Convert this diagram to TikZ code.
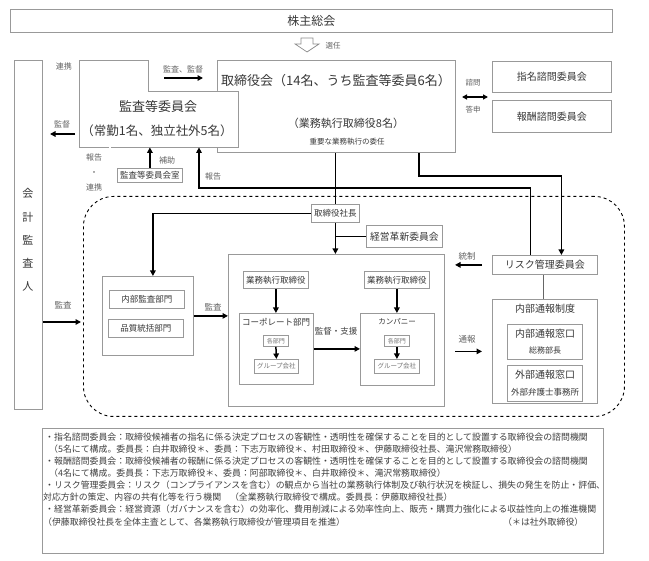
\documentclass[tikz,border=0pt]{standalone}
\usepackage{fontspec}
\setmainfont{Noto Sans CJK JP}
\usetikzlibrary{arrows.meta}
\newcommand\myfs[1]{\fontsize{#1pt}{#1pt}\selectfont}
\begin{document}
\begin{tikzpicture}[x=1pt,y=-1pt,
  bx/.style={draw=black!40, line width=0.8pt, fill=white, inner sep=0pt, anchor=north west, text=black!78},
  txt/.style={inner sep=0pt, text=black!78},
  sub/.style={inner sep=0pt, text=black!55},
  lbl/.style={inner sep=0pt, text=black!62, font=\myfs{8}},
  arr/.style={line width=1.5pt, -{Triangle[length=5.5pt,width=5.5pt]}},
  darr/.style={line width=1.5pt, {Triangle[length=5pt,width=5pt]}-{Triangle[length=5pt,width=5pt]}},
  ln/.style={line width=1.5pt},
  dbl/.style={draw=black!60, double=white, double distance=1.5pt, line width=0.7pt},
  note/.style={inner sep=0pt, anchor=west, text=black!75, font=\myfs{8.9}}
]
\useasboundingbox (0,0) rectangle (649,561);

% dashed region
\node[draw=black, dashed, line width=0.9pt, rounded corners=30pt, minimum width=541pt, minimum height=220pt, anchor=north west, inner sep=0pt] (zone) at (83,196) {};

% top
\node[bx, minimum width=602pt, minimum height=23pt, font=\myfs{12}] (sh) at (10,9) {株主総会};
\draw[draw=black!45, fill=white, line width=0.7pt] (301,38) -- (313,38) -- (313,44) -- (319,44) -- (307,52) -- (295,44) -- (301,44) -- cycle;
\node[lbl, font=\myfs{7.5}] (sennin) at (333,46) {選任};

% accounting auditor
\node[bx, minimum width=28pt, minimum height=349pt] (aud) at (14,60) {};
\node[txt, align=center, font=\fontsize{11pt}{23.2pt}\selectfont] (audt) at (28,240) {会\\計\\監\\査\\人};

% board
\node[bx, minimum width=238pt, minimum height=92pt] (brd) at (217,60) {};
\node[txt, font=\myfs{13}] (brd1) at (336,81) {取締役会（14名、うち監査等委員6名）};
\node[txt, font=\myfs{11}] (brd2) at (346,123) {（業務執行取締役8名）};
\node[txt, font=\myfs{7.5}] (brd3) at (347,142) {重要な業務執行の委任};

% audit & supervisory committee
\draw[draw=black!40, line width=0.8pt, fill=white] (79,60) -- (148,60) -- (148,91) -- (238,91) -- (238,147) -- (79,147) -- cycle;
\node[minimum width=159pt, minimum height=87pt, anchor=north west, inner sep=0pt] (ac) at (79,60) {};
\node[txt, font=\myfs{13}] (ac1) at (158,107) {監査等委員会};
\node[txt, font=\myfs{12.5}] (ac2) at (157,131) {（常勤1名、独立社外5名）};

% advisory committees
\node[bx, minimum width=119pt, minimum height=31pt, font=\myfs{10}] (nom) at (492,61) {指名諮問委員会};
\node[bx, minimum width=119pt, minimum height=32pt, font=\myfs{10}] (rem) at (492,100) {報酬諮問委員会};

\node[bx, minimum width=65pt, minimum height=14pt, font=\myfs{8.5}] (room) at (117,168) {監査等委員会室};

% inside zone
\node[bx, minimum width=48pt, minimum height=18pt, font=\myfs{8.5}] (ceo) at (311,204) {取締役社長};
\node[bx, minimum width=76pt, minimum height=22pt, font=\myfs{9.8}] (kak) at (366,225) {経営革新委員会};

\node[bx, minimum width=91pt, minimum height=79pt] (ia) at (102,276) {};
\node[bx, minimum width=75pt, minimum height=18pt, font=\myfs{8.5}] (iad) at (109,290) {内部監査部門};
\node[bx, minimum width=75pt, minimum height=18pt, font=\myfs{8.5}] (qa) at (108,319) {品質統括部門};

\node[bx, minimum width=216pt, minimum height=152pt] (exe) at (228,254) {};
\node[bx, minimum width=65pt, minimum height=17pt, font=\myfs{8.5}] (ed1) at (243,271) {業務執行取締役};
\node[bx, minimum width=65pt, minimum height=17pt, font=\myfs{8.5}] (ed2) at (364,271) {業務執行取締役};
\node[bx, minimum width=74pt, minimum height=71pt] (corp) at (239,313) {};
\node[txt, font=\myfs{8.5}] (corpt) at (276,322) {コーポレート部門};
\node[bx, minimum width=74pt, minimum height=72pt] (comp) at (360,313) {};
\node[txt, font=\myfs{7.5}] (compt) at (397,322) {カンパニー};
\node[bx, minimum width=25pt, minimum height=11pt, font=\myfs{6}, text=black!55] (dep1) at (263,335) {各部門};
\node[bx, minimum width=44pt, minimum height=14pt, font=\myfs{6.5}, text=black!55] (grp1) at (254,359) {グループ会社};
\node[bx, minimum width=25pt, minimum height=11pt, font=\myfs{6}, text=black!55] (dep2) at (384,335) {各部門};
\node[bx, minimum width=45pt, minimum height=14pt, font=\myfs{6.5}, text=black!55] (grp2) at (374,359) {グループ会社};

\node[bx, minimum width=105pt, minimum height=19pt, font=\myfs{10}] (risk) at (492,255) {リスク管理委員会};
\node[bx, minimum width=105pt, minimum height=104pt] (wb) at (492,299) {};
\node[txt, font=\myfs{10}] (wbt) at (545,309) {内部通報制度};
\node[bx, minimum width=75pt, minimum height=35pt] (win) at (507,324) {};
\node[txt, font=\myfs{10}] (win1) at (545,334) {内部通報窓口};
\node[txt, font=\myfs{8}] (win2) at (545,350) {総務部長};
\node[bx, minimum width=75pt, minimum height=36pt] (wout) at (507,365) {};
\node[txt, font=\myfs{10}] (wout1) at (545,375) {外部通報窓口};
\node[txt, font=\myfs{8.5}] (wout2) at (545,392) {外部弁護士事務所};

% free-end coordinates
\coordinate (k1) at (164,78);
\coordinate (k2) at (203,78);
\coordinate (s1) at (75,134);
\coordinate (s2) at (50,134);
\coordinate (r1) at (50,80);
\coordinate (r2) at (75,80);
\coordinate (q1) at (462,97);
\coordinate (q2) at (488,97);
\coordinate (m1) at (81,322);
\coordinate (rp) at (199,188);
\coordinate (bp) at (419,176);

% connectors
\draw[dbl] (r1) -- (r2);
\draw[arr] (k1) -- (k2);
\draw[arr] (s1) -- (s2);
\draw[darr] (q1) -- (q2);
\draw[arr] (m1 -| aud.east) -- (m1);
\draw[dbl] ([xshift=8pt]ia.north west) -- ([xshift=8pt]ia.north west |- ac.south);
\draw[arr] (room.north) -- (room.north |- ac.south);
\draw[arr] ([xshift=-14.5pt]risk.north) |- (rp) -- (rp |- ac.south);
\draw[arr] (bp |- brd.south) -- (bp) -| ([xshift=16.5pt]risk.north);
\draw[ln] (ceo.north) -- (ceo.north |- brd.south);
\draw[arr] (ceo.south) -- (ceo.south |- exe.north);
\draw[ln] (kak.west) -- (kak.west -| ceo.south);
\draw[arr] (ceo.west) -| ([xshift=5pt]ia.north);
\draw[arr] (ia.east) -- (ia.east -| exe.west);
\draw[arr] (ed1.south) -- (ed1.south |- corp.north);
\draw[arr] (ed2.south) -- (ed2.south |- comp.north);
\draw[arr] (dep1.south) -- (grp1.north);
\draw[arr] (dep2.south) -- (grp2.north);
\draw[arr] (corp.east) -- (corp.east -| comp.west);
\draw[arr] ([xshift=-10pt]risk.west) -- ([xshift=-37pt]risk.west);
\draw[dbl] (risk.south) -- (risk.south |- wb.north);
\draw[arr] ([xshift=-37pt]wb.west) -- ([xshift=-10pt]wb.west);

% labels
\node[lbl] (l1) at (64,66) {連携};
\node[lbl] (l2) at (183,69) {監査、監督};
\node[lbl] (l3) at (62,124) {監督};
\node[lbl, font=\myfs{7.5}] (l4) at (473,83) {諮問};
\node[lbl, font=\myfs{7.5}] (l5) at (473,110) {答申};
\node[lbl, align=center, font=\fontsize{8pt}{15pt}\selectfont] (l6) at (94,172) {報告\\・\\連携};
\node[lbl] (l7) at (167,160) {補助};
\node[lbl] (l8) at (213,176) {報告};
\node[lbl, font=\myfs{8.5}] (l9) at (63,305) {監査};
\node[lbl, font=\myfs{8.5}] (l10) at (213,307) {監査};
\node[lbl, font=\myfs{8.5}, text=black!75] (l11) at (336,331) {監督・支援};
\node[lbl, font=\myfs{8.5}] (l12) at (467,256) {統制};
\node[lbl, font=\myfs{8.5}] (l13) at (467,339) {通報};

% notes
\node[bx, minimum width=561pt, minimum height=125pt] (notes) at (42,428) {};
\node[note] (n1) at (45,437) {・指名諮問委員会：取締役候補者の指名に係る決定プロセスの客観性・透明性を確保することを目的として設置する取締役会の諮問機関};
\node[note] (n2) at (49,449) {（5名にて構成。委員長：白井取締役＊、委員：下志万取締役＊、村田取締役＊、伊藤取締役社長、滝沢常務取締役）};
\node[note] (n3) at (45,461) {・報酬諮問委員会：取締役候補者の報酬に係る決定プロセスの客観性・透明性を確保することを目的として設置する取締役会の諮問機関};
\node[note] (n4) at (49,473) {（4名にて構成。委員長：下志万取締役＊、委員：阿部取締役＊、白井取締役＊、滝沢常務取締役）};
\node[note] (n5) at (45,485) {・リスク管理委員会：リスク（コンプライアンスを含む）の観点から当社の業務執行体制及び執行状況を検証し、損失の発生を防止・評価、};
\node[note] (n6) at (43,497) {対応方針の策定、内容の共有化等を行う機関　（全業務執行取締役で構成。委員長：伊藤取締役社長）};
\node[note] (n7) at (45,509) {・経営革新委員会：経営資源（ガバナンスを含む）の効率化、費用削減による効率性向上、販売・購買力強化による収益性向上の推進機関};
\node[note] (n8) at (43,522) {（伊藤取締役社長を全体主査として、各業務執行取締役が管理項目を推進）};
\node[note] (n9) at (503,522) {（＊は社外取締役）};
\end{tikzpicture}
\end{document}
